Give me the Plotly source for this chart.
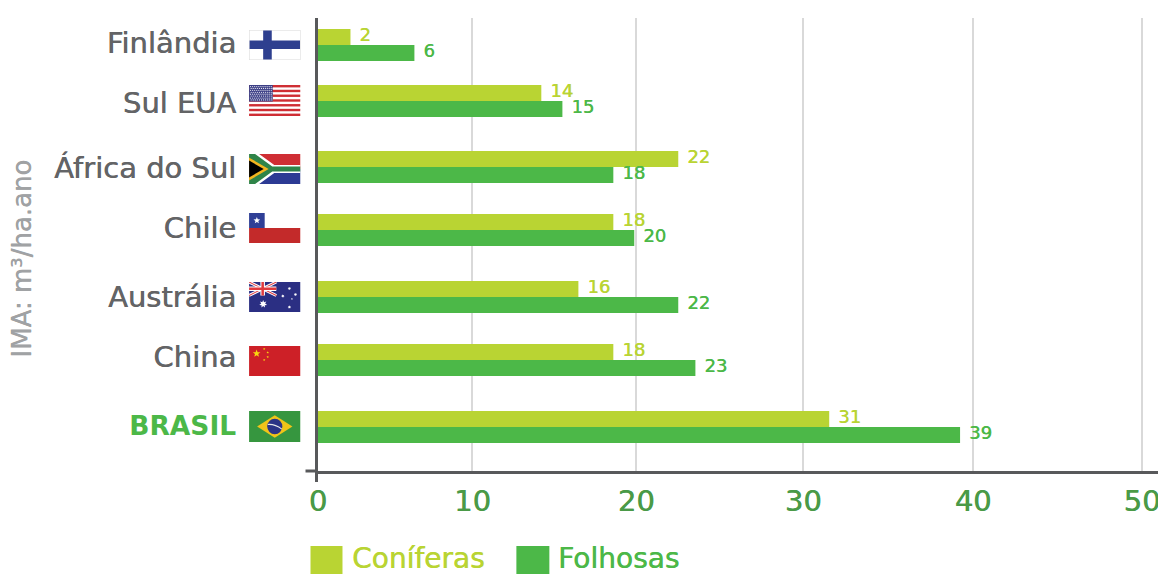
import math
from urllib.parse import quote
import plotly.graph_objects as go

# ---- data ----
categories = ["Finlândia", "Sul EUA", "África do Sul", "Chile", "Austrália", "China", "BRASIL"]
coniferas_values = [1.97, 13.55, 21.86, 17.92, 15.8, 17.92, 31.02]
folhosas_values = [5.85, 14.83, 17.92, 19.19, 21.86, 22.9, 38.96]
coniferas_labels = ["2", "14", "22", "18", "16", "18", "31"]
folhosas_labels = ["6", "15", "18", "20", "22", "23", "39"]
row_positions = [0, 0.88, 1.916, 2.906, 3.958, 4.947, 6.0]
label_positions = [-0.03, 0.91, 1.93, 2.87, 3.96, 4.90, 5.97]
x_tick_positions = [0, 9.37, 19.31, 29.44, 39.75, 50.0]
x_tick_labels = ["0", "10", "20", "30", "40", "50"]
flag_tops = [30, 85, 154, 213, 282, 346, 411]

CONIF = "#b9d433"
FOLH = "#4cb848"
GRAY = "#636466"
AXIS = "#58595b"
TICKG = "#4a9a47"
FONT = "DejaVu Sans, sans-serif"

W, H = 1158, 574
L, R, T, B = 317.5, 1158, 18, 471
px_x = lambda p: (p - L) / (R - L)
px_y = lambda p: (B - p) / (B - T)
BAR_W = 0.2513


def heavy(color, amount=0.5):
    """A faint same-colour shadow that thickens the strokes of the only regular weight available."""
    return f"{amount}px 0 0 {color}"


def star(cx, cy, r, fill="#fff", n=5, rot=-90, ratio=0.42):
    pts = []
    for i in range(2 * n):
        a = math.radians(rot + i * 180 / n)
        rr = r if i % 2 == 0 else r * ratio
        pts.append(f"{cx + rr * math.cos(a):.2f},{cy + rr * math.sin(a):.2f}")
    return f'<polygon points="{" ".join(pts)}" fill="{fill}"/>'


def svg(body):
    s = f'<svg xmlns="http://www.w3.org/2000/svg" width="102" height="60" viewBox="0 0 102 60">{body}</svg>'
    return "data:image/svg+xml," + quote(s)


finland = ('<rect width="102" height="60" fill="#fff" stroke="#d8d8d8" stroke-width="2"/>'
           '<rect x="28" y="1" width="17" height="58" fill="#2e3f8f"/>'
           '<rect x="1" y="21" width="100" height="17" fill="#2e3f8f"/>')

usa = '<rect width="102" height="60" fill="#fff"/>'
for i in range(0, 13, 2):
    usa += f'<rect y="{i * 60 / 13:.2f}" width="102" height="{60 / 13:.2f}" fill="#cf2e34"/>'
usa += '<rect width="47" height="32" fill="#3c3f86"/>'
for r_ in range(8):
    for c_ in range(11):
        usa += f'<circle cx="{3 + c_ * 4.1 + (r_ % 2) * 1.2:.1f}" cy="{3 + r_ * 3.7:.1f}" r="1.2" fill="#e8e8f2"/>'

safrica = ('<rect width="102" height="30" fill="#cf2e34"/>'
           '<rect y="30" width="102" height="30" fill="#2c3a94"/>'
           '<path d="M0 0 L20 0 L50 22 L102 22 L102 38 L50 38 L20 60 L0 60 Z" fill="#fff"/>'
           '<path d="M0 0 L12 0 L46 25 L102 25 L102 35 L46 35 L12 60 L0 60 Z" fill="#2f8449"/>'
           '<path d="M0 10 L34 30 L0 50 Z" fill="#f2b51f" stroke="#f2b51f" stroke-width="5"/>'
           '<path d="M0 13 L29 30 L0 47 Z" fill="#000"/>')

chile = ('<rect width="102" height="30" fill="#fff"/>'
         '<rect y="30" width="102" height="30" fill="#c32a2a"/>'
         '<rect width="31" height="30" fill="#2f3f96"/>' + star(15.5, 15, 7))

australia = ('<rect width="102" height="60" fill="#2b2f83"/>'
             '<path d="M0 0 L54 27 M54 0 L0 27" stroke="#fff" stroke-width="6"/>'
             '<path d="M0 0 L54 27 M54 0 L0 27" stroke="#e03a3e" stroke-width="2"/>'
             '<path d="M27 0 V27 M0 13.5 H54" stroke="#fff" stroke-width="9"/>'
             '<path d="M27 0 V27 M0 13.5 H54" stroke="#e03a3e" stroke-width="5"/>'
             + star(28, 44, 8, n=7, ratio=0.5)
             + star(80, 13, 3.5, n=7, ratio=0.5) + star(67, 28, 3.5, n=7, ratio=0.5)
             + star(92, 25, 3.5, n=7, ratio=0.5) + star(85, 34, 2, ratio=0.5)
             + star(80, 50, 3.5, n=7, ratio=0.5))

china = ('<rect width="102" height="60" fill="#cd2027"/>' + star(15, 15, 8, fill="#f8d90f")
         + star(30, 6, 2.6, fill="#f8d90f") + star(37, 13, 2.6, fill="#f8d90f")
         + star(37, 22, 2.6, fill="#f8d90f") + star(30, 28, 2.6, fill="#f8d90f"))

brazil = ('<rect width="102" height="60" fill="#36963f"/>'
          '<path d="M51 8 L86 30 L51 52 L16 30 Z" fill="#f0c419"/>'
          '<circle cx="51" cy="30" r="15" fill="#2b3486"/>'
          '<path d="M37 26 Q52 25 65 35" stroke="#e8e8e8" stroke-width="2" fill="none"/>')

flags = [finland, usa, safrica, chile, australia, china, brazil]
flag_h = [30, 31, 30, 30, 30, 30, 31]

fig = go.Figure()
for name, values, offset, color, labels in [
    ("Coníferas", coniferas_values, -BAR_W, CONIF, coniferas_labels),
    ("Folhosas", folhosas_values, 0, FOLH, folhosas_labels),
]:
    fig.add_trace(go.Bar(
        name=name, y=row_positions, x=values, orientation="h",
        width=BAR_W, offset=offset, marker=dict(color=color, line=dict(width=0))))
    # value labels sit slightly above the bar centre and clear of its end, as in the picture
    label_y = [r + offset + BAR_W / 2 - 0.015 for r in row_positions]
    fig.add_trace(go.Scatter(
        x=[v + 0.2 for v in values], y=label_y, mode="text", text=["\u00a0" + t for t in labels],
        textposition="middle right", cliponaxis=False, hoverinfo="skip", showlegend=False,
        textfont=dict(color=color, size=18, family=FONT, shadow=heavy(color, 0.4))))

ticktext = [c if c != "BRASIL"
            else f'<b><span style="color:{FOLH};font-size:26.5px;text-shadow:none">{c}</span></b>'
            for c in categories]

images = [dict(source=svg(b), xref="paper", yref="paper", x=px_x(248.5), y=px_y(t),
               sizex=51.5 / (R - L), sizey=h / (B - T), xanchor="left", yanchor="top",
               sizing="stretch", layer="above")
          for b, t, h in zip(flags, flag_tops, flag_h)]

shapes = [
    dict(type="line", xref="paper", yref="paper", x0=px_x(305), x1=px_x(317), y0=0, y1=0,
         line=dict(color=AXIS, width=3)),
    dict(type="line", xref="paper", yref="paper", x0=px_x(316), x1=px_x(316), y0=px_y(471), y1=px_y(482),
         line=dict(color=AXIS, width=3)),
    dict(type="rect", xref="paper", yref="paper", x0=px_x(310), x1=px_x(342), y0=px_y(546), y1=px_y(574),
         fillcolor=CONIF, line=dict(width=0)),
    dict(type="rect", xref="paper", yref="paper", x0=px_x(516), x1=px_x(549), y0=px_y(546), y1=px_y(574),
         fillcolor=FOLH, line=dict(width=0)),
]

annotations = [
    dict(text="IMA: m³/ha.ano", textangle=-90, xref="paper", yref="paper", x=px_x(21), y=px_y(259),
         showarrow=False, xanchor="center", yanchor="middle",
         font=dict(size=26, color="#a0a2a4", family=FONT, shadow=heavy("#a0a2a4", 0.4))),
    dict(text="Coníferas", xref="paper", yref="paper", x=px_x(350), y=px_y(558.5), showarrow=False,
         xanchor="left", yanchor="middle", font=dict(size=28, color=CONIF, family=FONT, shadow=heavy(CONIF))),
    dict(text="Folhosas", xref="paper", yref="paper", x=px_x(556), y=px_y(558.5), showarrow=False,
         xanchor="left", yanchor="middle", font=dict(size=28, color=FOLH, family=FONT, shadow=heavy(FOLH))),
]

fig.update_layout(
    width=W, height=H, autosize=False, barmode="overlay", showlegend=False,
    plot_bgcolor="#fff", paper_bgcolor="#fff",
    margin=dict(l=L, r=W - R, t=T, b=H - B, pad=0),
    images=images, shapes=shapes, annotations=annotations,
    xaxis=dict(range=[0, (R - L) / 16.49], tickmode="array", tickvals=x_tick_positions, ticktext=x_tick_labels,
               showgrid=True, gridcolor="#d9d9d9", gridwidth=1.5, zeroline=False, automargin=False,
               showline=True, linecolor=AXIS, linewidth=3, ticks="", ticklabelstandoff=2,
               ticklabeloverflow="allow",
               tickfont=dict(size=29, color=TICKG, family=FONT, shadow=heavy(TICKG))),
    yaxis=dict(range=[6.691, -0.424], tickmode="array", tickvals=label_positions, ticktext=ticktext,
               showgrid=False, zeroline=False, showline=True, linecolor=AXIS, linewidth=3, ticks="",
               automargin=False, ticklabelstandoff=73,
               tickfont=dict(size=29, color=GRAY, family=FONT, shadow=heavy(GRAY))),
)

fig.write_html("out.html", config={"displayModeBar": False},
               post_script="document.body.style.margin='0';document.documentElement.style.overflow='hidden';")
